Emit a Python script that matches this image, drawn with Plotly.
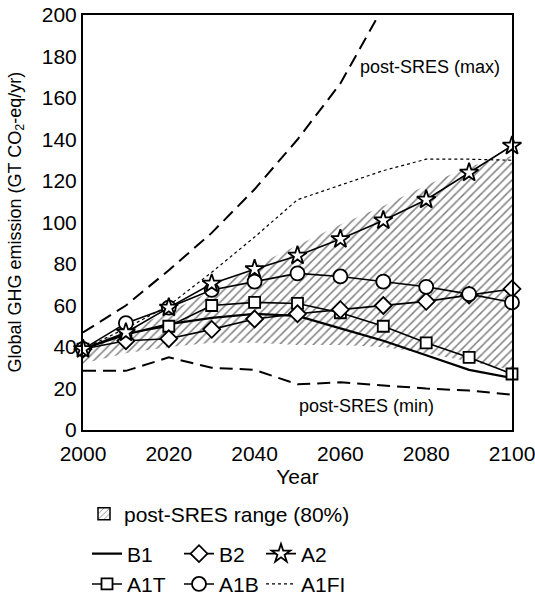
import plotly.graph_objects as go

years = [2000, 2010, 2020, 2030, 2040, 2050, 2060, 2070, 2080, 2090, 2100]
B1 = [39, 46, 51, 54, 56, 55, 49, 43, 36, 29, 25]
B2 = [39, 43, 44, 48.5, 53.5, 56, 58, 60, 62, 65, 68]
A2 = [39, 47, 59, 70.5, 77.5, 84, 92, 101, 111, 124, 137]
A1T = [39, 46.5, 50, 60, 61.5, 61, 56.5, 50, 42, 35, 27]
A1B = [39, 51.5, 59, 67.5, 71.5, 75.5, 74, 71.5, 69, 65.5, 61.5]
A1FI = [39, 49, 60, 76, 93, 111, 118, 125, 130.5, 130.5, 130]
post_max = [47, 60, 77, 95, 116, 140, 167, 204]
post_min = [28.5, 28.5, 35, 30, 29, 22, 23, 21.5, 20, 19, 17]
range_low = [32, 37, 40, 42, 42, 41, 41, 40, 37, 33, 29]
range_high = [40, 48, 57, 67, 79, 89, 99, 108, 118, 127, 132]

FONT = "Liberation Sans, Arial, sans-serif"
fig = go.Figure()

# hatched range
fig.add_trace(go.Scatter(x=years, y=range_low, mode="lines", line=dict(width=0, color="rgba(0,0,0,0)"),
                         showlegend=False, hoverinfo="skip"))
fig.add_trace(go.Scatter(x=years, y=range_high, mode="lines", line=dict(width=0, color="rgba(0,0,0,0)"),
                         fill="tonexty", fillcolor="white",
                         fillpattern=dict(shape="/", size=6, solidity=0.25, fgcolor="black", bgcolor="white"),
                         showlegend=False, hoverinfo="skip"))
# legend proxy for range
fig.add_trace(go.Bar(x=[None], y=[None], name="post-SRES range (80%)", legend="legend",
                     marker=dict(color="white", line=dict(color="black", width=1.5),
                                 pattern=dict(shape="/", size=5, solidity=0.2, fgcolor="black", bgcolor="white"))))

# post-SRES max/min
fig.add_trace(go.Scatter(x=years[:len(post_max)], y=post_max, mode="lines",
                         line=dict(color="black", width=2, dash="13px,7px"), showlegend=False))
fig.add_trace(go.Scatter(x=years, y=post_min, mode="lines",
                         line=dict(color="black", width=2, dash="13px,7px"), showlegend=False))

# A1FI dotted
fig.add_trace(go.Scatter(x=years, y=A1FI, mode="lines", name="A1FI", legend="legend4", legendrank=2,
                         line=dict(color="black", width=1.2, dash="dot")))
# B1 solid
fig.add_trace(go.Scatter(x=years, y=B1, mode="lines", name="B1", legend="legend2", legendrank=1,
                         line=dict(color="black", width=2.2)))

mk = dict(color="white", line=dict(color="black", width=1.8))
fig.add_trace(go.Scatter(x=years, y=A1T, mode="lines+markers", name="A1T", legend="legend2", legendrank=2,
                         line=dict(color="black", width=1.6), cliponaxis=False,
                         marker=dict(symbol="square", size=11, **mk)))
fig.add_trace(go.Scatter(x=years, y=B2, mode="lines+markers", name="B2", legend="legend3", legendrank=1,
                         line=dict(color="black", width=1.6), cliponaxis=False,
                         marker=dict(symbol="diamond", size=13, **mk)))
fig.add_trace(go.Scatter(x=years, y=A1B, mode="lines+markers", name="A1B", legend="legend3", legendrank=2,
                         line=dict(color="black", width=1.6), cliponaxis=False,
                         marker=dict(symbol="circle", size=14, **mk)))
fig.add_trace(go.Scatter(x=years, y=A2, mode="lines+markers", name="A2", legend="legend4", legendrank=1,
                         line=dict(color="black", width=1.6), cliponaxis=False,
                         marker=dict(symbol="star", size=14, **mk)))

axis_common = dict(showline=True, mirror=True, linecolor="black", linewidth=2, showgrid=False,
                   zeroline=False, ticks="", ticklabeloverflow="allow",
                   tickfont=dict(size=21, color="black", family=FONT))

fig.update_xaxes(range=[2000, 2100], tickvals=[2000, 2020, 2040, 2060, 2080, 2100], tickangle=0,
                 ticklabelstandoff=4,
                 title=dict(text="Year", font=dict(size=21, color="black", family=FONT), standoff=0),
                 **axis_common)
fig.update_yaxes(range=[0, 200], tickvals=list(range(0, 201, 20)), **axis_common)

fig.add_annotation(xref="paper", yref="paper", x=-0.156, y=0.5, textangle=-90,
                   text="Global GHG emission (GT CO<sub>2</sub>-eq/yr)", showarrow=False,
                   xanchor="center", yanchor="middle",
                   font=dict(size=18, color="black", family=FONT))
fig.add_annotation(x=2081, y=175, text="post-SRES (max)", showarrow=False,
                   font=dict(size=18, color="black", family=FONT))
fig.add_annotation(x=2066, y=11.5, text="post-SRES (min)", showarrow=False,
                   font=dict(size=18, color="black", family=FONT))

lg = dict(xref="container", yref="container", orientation="v", bgcolor="rgba(0,0,0,0)",
          font=dict(size=21, color="black", family=FONT), tracegroupgap=0, borderwidth=0,
          traceorder="normal")
fig.update_layout(
    width=535, height=596,
    margin=dict(l=83, r=23, t=15, b=166, autoexpand=False),
    plot_bgcolor="white", paper_bgcolor="white",
    font=dict(family=FONT, color="black"),
    legend=dict(x=84/535, y=1 - 514/596, xanchor="left", yanchor="middle", **lg),
    legend2=dict(x=87/535, y=1 - 569/596, xanchor="left", yanchor="middle", **lg),
    legend3=dict(x=179/535, y=1 - 569/596, xanchor="left", yanchor="middle", **lg),
    legend4=dict(x=261/535, y=1 - 569/596, xanchor="left", yanchor="middle", **lg),
)

fig.write_html("out.html", config={"displayModeBar": False},
               post_script="document.body.style.margin='0';document.body.style.overflow='hidden';")
